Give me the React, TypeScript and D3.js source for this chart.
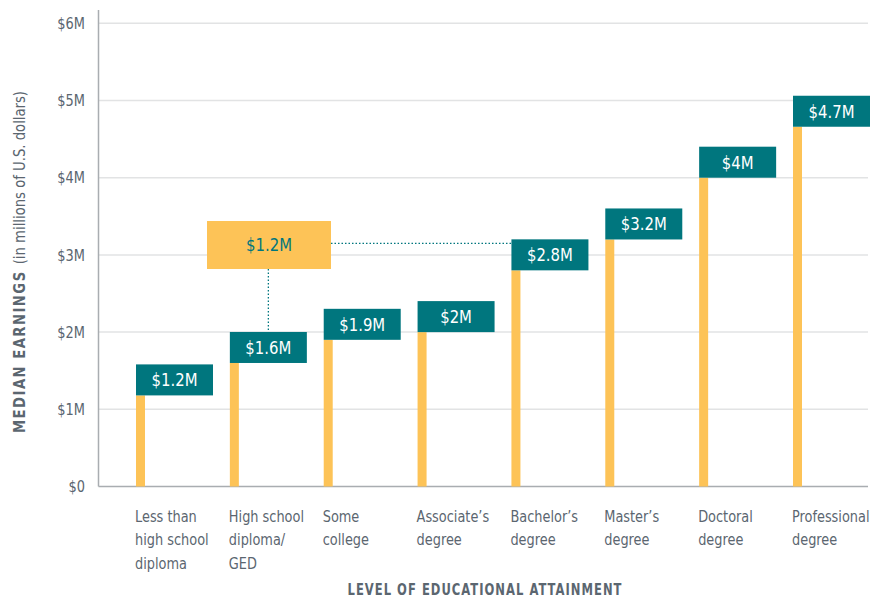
import React from "react";
import * as d3 from "d3";

const categories = [
  ["Less than", "high school", "diploma"],
  ["High school", "diploma/", "GED"],
  ["Some", "college"],
  ["Associate’s", "degree"],
  ["Bachelor’s", "degree"],
  ["Master’s", "degree"],
  ["Doctoral", "degree"],
  ["Professional", "degree"],
];
const values = [1.18, 1.6, 1.9, 2.0, 2.8, 3.2, 4.0, 4.66];
const valueLabels = ["$1.2M", "$1.6M", "$1.9M", "$2M", "$2.8M", "$3.2M", "$4M", "$4.7M"];
const yTicks = [0, 1, 2, 3, 4, 5, 6];
const yTickLabels = ["$0", "$1M", "$2M", "$3M", "$4M", "$5M", "$6M"];
const gapFrom = 1; // High school diploma
const gapTo = 4; // Bachelor's degree
const gapLabel = "$1.2M";

const TEAL = "#00767e";
const YELLOW = "#fdc357";
const TEXT = "#5b6670";
const FONT = "'DejaVu Sans Condensed', 'DejaVu Sans', sans-serif";

export default function App() {
  const W = 875, H = 598;
  const y = d3.scaleLinear().domain([0, 6]).range([486.5, 23.3]);
  const x = d3.scalePoint<number>().domain(d3.range(categories.length)).range([136, 793]);
  const axisX = 98.5;
  const gridRight = 868;
  const barW = 9;
  const boxW = 77;
  const boxH = 31;

  const hsX = x(gapFrom)!;
  const baX = x(gapTo)!;
  const gapBox = { x: 207, y: 221, w: 124, h: 48 };
  const vLineX = hsX + boxW / 2;
  const hLineY = y(values[gapTo]) - boxH + 4;

  return (
    <svg width={W} height={H} style={{ position: "absolute", left: 0, top: 0, background: "#fff" }} fontFamily={FONT}>
      {yTicks.map((t, i) => (
        <g key={t}>
          {t > 0 && <line x1={axisX} x2={gridRight} y1={y(t)} y2={y(t)} stroke="#e2e3e4" strokeWidth={1.5} />}
          <text transform={`translate(85, ${y(t)}) scale(0.9, 1)`} dy="0.35em" textAnchor="end" fontSize={16} fill={TEXT}>
            {yTickLabels[i]}
          </text>
        </g>
      ))}
      <line x1={axisX} x2={axisX} y1={10} y2={y(0)} stroke="#a9adb1" strokeWidth={1.5} />
      <line x1={axisX} x2={gridRight} y1={y(0)} y2={y(0)} stroke="#a9adb1" strokeWidth={1.5} />

      {/* dotted connectors */}
      <line x1={vLineX} x2={vLineX} y1={gapBox.y + gapBox.h} y2={y(values[gapFrom]) - boxH} stroke={TEAL} strokeWidth={1.3} strokeDasharray="1.5 2" />
      <line x1={gapBox.x + gapBox.w} x2={baX} y1={hLineY} y2={hLineY} stroke={TEAL} strokeWidth={1.3} strokeDasharray="1.5 2" />

      {values.map((v, i) => {
        const bx = x(i)!;
        return (
          <g key={i}>
            <rect x={bx} y={y(v)} width={barW} height={y(0) - y(v)} fill={YELLOW} />
            <rect x={bx} y={y(v) - boxH} width={boxW} height={boxH} fill={TEAL} />
            <text transform={`translate(${bx + boxW / 2}, ${y(v) - boxH / 2}) scale(0.92, 1)`} dy="0.36em" textAnchor="middle" fontSize={18} fill="#fff">
              {valueLabels[i]}
            </text>
            {categories[i].map((line, j) => (
              <text key={j} transform={`translate(${bx - 1}, ${516 + j * 23.5}) scale(0.87, 1)`} dy="0.35em" fontSize={16.5} fill={TEXT}>
                {line}
              </text>
            ))}
          </g>
        );
      })}

      <rect x={gapBox.x} y={gapBox.y} width={gapBox.w} height={gapBox.h} fill={YELLOW} />
      <text transform={`translate(${gapBox.x + gapBox.w / 2}, ${gapBox.y + gapBox.h / 2}) scale(0.92, 1)`} dy="0.36em" textAnchor="middle" fontSize={18} fill={TEAL}>
        {gapLabel}
      </text>

      <text transform={`translate(20, 262) rotate(-90)`} textAnchor="middle" dy="0.35em" fontSize={15} fill={TEXT} textLength={342} lengthAdjust="spacingAndGlyphs">
        <tspan fontWeight="bold" letterSpacing={1.5}>MEDIAN EARNINGS </tspan>
        <tspan>(in millions of U.S. dollars)</tspan>
      </text>
      <text x={485} y={590} dy="0.35em" textAnchor="middle" fontSize={15} fontWeight="bold" letterSpacing={1.2} fill={TEXT} textLength={275} lengthAdjust="spacingAndGlyphs">
        LEVEL OF EDUCATIONAL ATTAINMENT
      </text>
    </svg>
  );
}
